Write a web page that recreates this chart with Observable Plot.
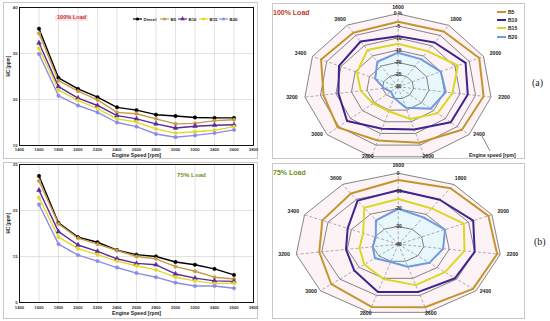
<!DOCTYPE html>
<html><head><meta charset="utf-8">
<script src="https://cdn.jsdelivr.net/npm/d3@7"></script>
<script src="https://cdn.jsdelivr.net/npm/@observablehq/plot@0.6"></script>
<style>
html,body{margin:0;padding:0;background:#fff;}
#root{position:relative;width:550px;height:321px;overflow:hidden;background:#fff;font-family:"Liberation Sans",Arial,sans-serif;}
.panel{position:absolute;box-sizing:border-box;border:1px solid #c8c8c8;}
.abs{position:absolute;}
.abs svg{display:block;overflow:visible;max-width:none;}
.ttl{position:absolute;font-weight:bold;white-space:nowrap;line-height:1;}
</style></head><body><div id="root"></div>
<script>
// ---------- data ----------
const speeds = [1600,1800,2000,2200,2400,2600,2800,3000,3200,3400,3600];
const xTicks = [1400,1600,1800,2000,2200,2400,2600,2800,3000,3200,3400,3600,3800];
const yTicks100 = [10,20,30,40];
const yTicks75 = [5,15,25,35];
const seriesNames = ["Diesel","B5","B10","B15","B20"];
const lineColors = ["#000000","#c99a45","#5a2a9c","#e2d82a","#8c8ce8"];
const lineSymbols = ["circle","circle","triangle","circle","circle"];

const hc100_diesel = [35.4,24.7,22.3,20.5,18.3,17.7,16.7,16.4,16.1,16.0,16.0];
const hc100_b5     = [34.4,24.1,21.8,19.9,17.2,16.9,15.8,14.7,14.8,15.4,15.6];
const hc100_b10    = [32.3,22.8,20.3,18.7,16.5,15.8,14.7,13.8,14.2,14.4,14.5];
const hc100_b15    = [31.1,22.1,19.8,18.0,15.8,15.1,13.6,12.7,13.0,13.3,14.1];
const hc100_b20    = [29.9,20.8,18.7,17.2,15.0,14.1,12.5,11.8,12.2,12.7,13.4];

const hc75_diesel = [32.5,22.3,19.2,18.1,16.4,15.4,15.0,13.8,13.2,12.3,11.0];
const hc75_b5     = [31.4,22.1,19.0,17.7,16.3,15.0,14.5,12.8,11.8,10.5,10.1];
const hc75_b10    = [29.4,20.4,17.5,16.1,14.5,13.5,13.2,11.2,10.3,9.7,9.6];
const hc75_b15    = [27.8,19.2,16.7,15.4,14.0,13.0,12.1,10.5,9.7,9.1,9.2];
const hc75_b20    = [26.3,17.7,15.3,14.0,12.6,11.4,10.5,9.3,8.6,8.6,8.1];

const radarNames = ["B5","B10","B15","B20"];
const radarColors = ["#c4952e","#3f2390","#dcd624","#6e9be0"];
const red100_b5  = [-3.3,-3,-1.5,-2.4,-3,-6,-7,-4.5,-6,-3,-3.6];
const red100_b10 = [-9.2,-8.4,-6.3,-7.5,-7.7,-11.7,-12,-8.5,-10.8,-9.3,-7.9];
const red100_b15 = [-12.3,-12.6,-9,-12.4,-13.3,-16.2,-19.5,-19.5,-18,-15.6,-12];
const red100_b20 = [-16,-16.5,-15,-14.6,-16.2,-21,-25.3,-27,-25.5,-22,-17.8];
const rings100 = [0,-5,-10,-15,-20,-25,-30];
const ringText100 = ["0 %","-5","-10","-15","-20","-25","-30"];

const red75_b5  = [-3.8,-2.5,-1.5,-1.2,-1.6,-3,-3.2,-5.6,-9,-7.6,-6];
const red75_b10 = [-9.6,-10.2,-8,-10,-10.8,-12,-12,-17.4,-19.5,-18.4,-10.8];
const red75_b15 = [-14.5,-16,-12,-14,-16,-16,-19.6,-22.6,-24.8,-25,-15.6];
const red75_b20 = [-20,-22,-20,-22.4,-24,-26.8,-29.6,-28,-30,-30.4,-24];
const rings75 = [0,-10,-20,-30,-40];
const ringText75 = ["0","-10","-20","-30","-40"];

const FONT = '"Liberation Sans", Arial, sans-serif';
const root = document.getElementById("root");

function place(node, left, top, w, h) {
  const d = document.createElement("div");
  d.className = "abs";
  d.style.left = left + "px"; d.style.top = top + "px";
  if (w) d.style.width = w + "px";
  if (h) d.style.height = h + "px";
  d.appendChild(node);
  root.appendChild(d);
  return d;
}
function panel(left, top, w, h) {
  const d = document.createElement("div");
  d.className = "panel";
  Object.assign(d.style, {left:left+"px", top:top+"px", width:w+"px", height:h+"px"});
  root.appendChild(d);
}
function title(text, left, top, color, size, bg) {
  const d = document.createElement("div");
  d.className = "ttl";
  d.textContent = text;
  Object.assign(d.style, {left:left+"px", top:top+"px", color, fontSize:size+"px"});
  if (bg) { d.style.background = bg; d.style.padding = "0 2px"; }
  root.appendChild(d);
}

// ---------- line charts ----------
function linePlot(values, yDomain, yTicks, mt, mb, tickPad, labDy) {
  const rows = seriesNames.flatMap((name,k) => speeds.map((s,i) => ({name, speed:s, hc:values[k][i]})));
  return Plot.plot({
    width:255, height:157, marginLeft:16, marginRight:5, marginTop:mt, marginBottom:mb,
    style:{background:"transparent", fontFamily:FONT, fontSize:"4.5px", overflow:"visible"},
    x:{domain:[1400,3800]}, y:{domain:yDomain},
    color:{domain:seriesNames, range:lineColors},
    symbol:{domain:seriesNames, range:lineSymbols},
    marks:[
      Plot.gridX(xTicks, {stroke:"#cfcfcf", strokeOpacity:1, strokeWidth:0.6}),
      Plot.gridY(yTicks, {stroke:"#cfcfcf", strokeOpacity:1, strokeWidth:0.6}),
      Plot.frame({stroke:"#111", strokeWidth:1}),
      Plot.axisX(xTicks, {tickSize:0, tickPadding:tickPad, fontSize:4.2, fontWeight:"bold", fill:"#333", tickFormat:d=>String(d), label:null}),
      Plot.axisY(yTicks, {tickSize:0, tickPadding:2, fontSize:4.2, fontWeight:"bold", fill:"#333", tickFormat:d=>String(d), label:null}),
      Plot.line(rows, {x:"speed", y:"hc", z:"name", stroke:"name", strokeWidth:1.4}),
      Plot.dot(rows, {x:"speed", y:"hc", fill:"name", stroke:"name", symbol:"name", r:1.7, strokeWidth:0.6}),
      Plot.text(["Engine Speed [rpm]"], {frameAnchor:"bottom", dy:labDy, text:d=>d, fontWeight:"bold", fontSize:5.2, fill:"#222"}),
      Plot.text(["HC [ppm]"], {frameAnchor:"left", dx:-11, rotate:-90, text:d=>d, fontWeight:"bold", fontSize:4.6, fill:"#222"})
    ]
  });
}

panel(3, 2, 255, 157);
panel(3, 162, 255, 157);
panel(272, 3, 253, 156);
panel(272, 163, 253, 156);

place(linePlot([hc100_diesel,hc100_b5,hc100_b10,hc100_b15,hc100_b20],[10,40],yTicks100,5,14,3,11), 3, 2, 255, 157);
place(linePlot([hc75_diesel,hc75_b5,hc75_b10,hc75_b15,hc75_b20],[5,35],yTicks75,2,17,4,12), 3, 162, 255, 157);

// ---------- radar charts ----------
function radarPlot(values, min, rings, ringText, rx, ry, lfx, lfyUp, lfyDown) {
  const n = speeds.length;
  const ang = i => 2*Math.PI*i/n;
  const rad = v => (v - min)/(0 - min);
  const pts = radarNames.flatMap((name,k) => values[k].map((v,i) => ({name, x:Math.sin(ang(i))*rad(v), y:Math.cos(ang(i))*rad(v)})));
  const ringPts = rings.slice(0,-1).flatMap(r => speeds.map((s,i) => ({r, x:Math.sin(ang(i))*rad(r), y:Math.cos(ang(i))*rad(r)})));
  const outer = speeds.map((s,i) => ({x:Math.sin(ang(i)), y:Math.cos(ang(i))}));
  const inner = values[3].map((v,i) => ({x:Math.sin(ang(i))*rad(v), y:Math.cos(ang(i))*rad(v)}));
  const ringLab = rings.map((r,j) => ({y:rad(r), t:ringText[j]}));
  const ly = i => { const c = Math.cos(ang(i)); return c * (c > 0 ? lfyUp : lfyDown); };
  return Plot.plot({
    width:2.5*rx, height:2.5*ry, margin:0,
    style:{background:"transparent", fontFamily:FONT, overflow:"visible"},
    x:{domain:[-1.25,1.25], axis:null}, y:{domain:[-1.25,1.25], axis:null},
    color:{domain:radarNames, range:radarColors},
    marks:[
      Plot.line(outer, {x:"x", y:"y", curve:"linear-closed", fill:"#fdf3f7", stroke:"none"}),
      Plot.line(inner, {x:"x", y:"y", curve:"linear-closed", fill:"#e8f7fc", stroke:"none"}),
      Plot.line(ringPts, {x:"x", y:"y", z:"r", curve:"linear-closed", stroke:"#505050", strokeWidth:0.7}),
      Plot.link(outer, {x1:0, y1:0, x2:"x", y2:"y", stroke:"#8a8a8a", strokeWidth:0.7, strokeDasharray:"3,2"}),
      Plot.line(pts, {x:"x", y:"y", z:"name", stroke:"name", curve:"linear-closed", strokeWidth:2}),
      Plot.text(ringLab, {x:0, y:"y", text:"t", fontSize:5, fontWeight:"bold", fill:"#333"}),
      Plot.text(speeds, {x:(d,i)=>lfx*Math.sin(ang(i)), y:(d,i)=>ly(i), text:d=>String(d), fontSize:5.2, fontWeight:"bold", fill:"#222"})
    ]
  });
}
{
  const rx = 94, ry = 73, cx = 397, cy = 86;
  place(radarPlot([red100_b5,red100_b10,red100_b15,red100_b20], -30, rings100, ringText100, rx, ry, 1.14, 1.09, 1.0), cx-1.25*rx, cy-1.25*ry, 2.5*rx, 2.5*ry);
}
{
  const rx = 103, ry = 71, cx = 398, cy = 244;
  place(radarPlot([red75_b5,red75_b10,red75_b15,red75_b20], -40, rings75, ringText75, rx, ry, 1.12, 1.11, 1.02), cx-1.25*rx, cy-1.25*ry, 2.5*rx, 2.5*ry);
}

// ---------- legends / annotations overlay ----------
const ov = d3.create("svg").attr("width",550).attr("height",321)
  .style("position","absolute").style("left","0px").style("top","0px")
  .style("font-family", FONT);
const lgX = [133,160,178,199,219];
seriesNames.forEach((name,k) => {
  const g = ov.append("g");
  g.append("line").attr("x1",lgX[k]).attr("x2",lgX[k]+9).attr("y1",19).attr("y2",19)
    .attr("stroke",lineColors[k]).attr("stroke-width",1.2);
  if (lineSymbols[k] === "triangle")
    g.append("path").attr("d", d3.symbol(d3.symbolTriangle, 9)()).attr("transform",`translate(${lgX[k]+4.5},19)`).attr("fill",lineColors[k]);
  else
    g.append("circle").attr("cx",lgX[k]+4.5).attr("cy",19).attr("r",1.6).attr("fill",lineColors[k]);
  g.append("text").attr("x",lgX[k]+10.5).attr("y",20.6).attr("font-size",4.4).attr("font-weight","bold").attr("fill","#222").text(name);
});
const rlY = [12,20,28,37];
radarNames.forEach((name,k) => {
  ov.append("line").attr("x1",497).attr("x2",506).attr("y1",rlY[k]).attr("y2",rlY[k])
    .attr("stroke",radarColors[k]).attr("stroke-width",2);
  ov.append("text").attr("x",508).attr("y",rlY[k]+1.8).attr("font-size",5).attr("font-weight","bold").attr("fill","#222").text(name);
});
ov.append("line").attr("x1",482).attr("y1",136).attr("x2",490).attr("y2",151).attr("stroke","#333").attr("stroke-width",0.6);
ov.append("text").attr("x",469).attr("y",157).attr("font-size",5).attr("font-weight","bold").attr("fill","#222").text("Engine speed [rpm]");
root.appendChild(ov.node());

title("100% Load", 55, 15, "#c0392b", 5.6, "#fbe4ec");
title("75% Load", 177, 172, "#6f8f22", 6.2);
title("100% Load", 273, 9, "#c0392b", 7);
title("75% Load", 273, 169, "#6f8f22", 7);

const pa = document.createElement("div");
pa.className = "ttl"; pa.textContent = "(a)";
Object.assign(pa.style, {left:"532px", top:"78px", fontSize:"10px", fontWeight:"normal", fontFamily:'"Liberation Serif", serif', color:"#222"});
root.appendChild(pa);
const pb = document.createElement("div");
pb.className = "ttl"; pb.textContent = "(b)";
Object.assign(pb.style, {left:"534px", top:"237px", fontSize:"10px", fontWeight:"normal", fontFamily:'"Liberation Serif", serif', color:"#222"});
root.appendChild(pb);
</script></body></html>
